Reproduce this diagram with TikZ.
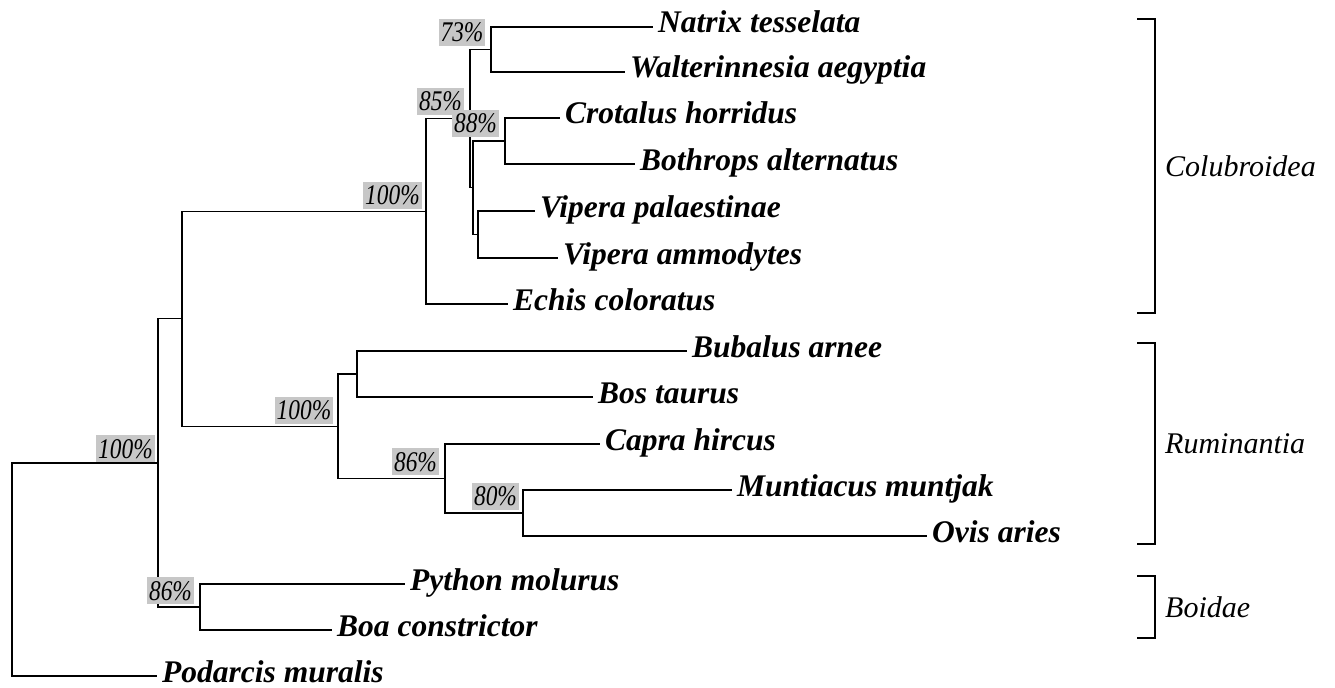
\documentclass[tikz,border=0pt]{standalone}
\usepackage{fontspec}
\usepackage{graphicx}
\setmainfont{Liberation Serif}
\begin{document}
\begin{tikzpicture}[x=1bp,y=-1bp,
  branch/.style={line width=1.3bp, black},
  leaf/.style={anchor=west, inner xsep=5bp, inner ysep=0pt, text height=12bp, text depth=0bp,
    font=\fontsize{31.5bp}{36bp}\selectfont\bfseries\itshape},
  support/.style={fill=black!22, inner xsep=2bp, inner ysep=3.5bp, text height=19.5bp, text depth=0.5bp,
    font=\fontsize{28.5bp}{32bp}\selectfont\itshape},
  clade/.style={anchor=west, inner sep=0pt, font=\fontsize{30bp}{34bp}\selectfont\itshape},
  bracketline/.style={line width=1.3bp, black}
]
\useasboundingbox (0,0) rectangle (1335,687);

% leaves
\node[leaf] (natrix)    at (653,27)  {Natrix tesselata};
\node[leaf] (walter)    at (625,72)  {Walterinnesia aegyptia};
\node[leaf] (crotalus)  at (560,118) {Crotalus horridus};
\node[leaf] (bothrops)  at (635,164) {Bothrops alternatus};
\node[leaf] (vpal)      at (535,211) {Vipera palaestinae};
\node[leaf] (vamm)      at (558,258) {Vipera ammodytes};
\node[leaf] (echis)     at (508,304) {Echis coloratus};
\node[leaf] (bubalus)   at (687,351) {Bubalus arnee};
\node[leaf] (bos)       at (593,397) {Bos taurus};
\node[leaf] (capra)     at (600,444) {Capra hircus};
\node[leaf] (muntiacus) at (732,490) {Muntiacus muntjak};
\node[leaf] (ovis)      at (927,536) {Ovis aries};
\node[leaf] (python)    at (405,584) {Python molurus};
\node[leaf] (boa)       at (332,630) {Boa constrictor};
\node[leaf] (podarcis)  at (157,676) {Podarcis muralis};

% internal nodes
\coordinate (nA)   at (491,49.5);
\coordinate (nC1)  at (505,141);
\coordinate (nC2)  at (478,234.5);
\coordinate (nC)   at (473,187.75);
\coordinate (nB)   at (470,118.6);
\coordinate (nD)   at (426,211.3);
\coordinate (nE)   at (357,374);
\coordinate (nH)   at (523,513);
\coordinate (nG)   at (445,478.5);
\coordinate (nF)   at (338,426.25);
\coordinate (nI)   at (182,318.8);
\coordinate (nK)   at (200,607);
\coordinate (nJ)   at (158,462.9);
\coordinate (root) at (12,569.5);

% branches
\draw[branch] (nA) |- (natrix.west);
\draw[branch] (nA) |- (walter.west);
\draw[branch] (nC1) |- (crotalus.west);
\draw[branch] (nC1) |- (bothrops.west);
\draw[branch] (nC2) |- (vpal.west);
\draw[branch] (nC2) |- (vamm.west);
\draw[branch] (nC) |- (nC1);
\draw[branch] (nC) |- (nC2);
\draw[branch] (nB) |- (nA);
\draw[branch] (nB) |- (nC);
\draw[branch] (nD) |- (nB);
\draw[branch] (nD) |- (echis.west);
\draw[branch] (nE) |- (bubalus.west);
\draw[branch] (nE) |- (bos.west);
\draw[branch] (nH) |- (muntiacus.west);
\draw[branch] (nH) |- (ovis.west);
\draw[branch] (nG) |- (capra.west);
\draw[branch] (nG) |- (nH);
\draw[branch] (nF) |- (nE);
\draw[branch] (nF) |- (nG);
\draw[branch] (nI) |- (nD);
\draw[branch] (nI) |- (nF);
\draw[branch] (nK) |- (python.west);
\draw[branch] (nK) |- (boa.west);
\draw[branch] (nJ) |- (nI);
\draw[branch] (nJ) |- (nK);
\draw[branch] (root) |- (nJ);
\draw[branch] (root) |- (podarcis.west);

% support values
\node[support] (s73)  at (462,32.5)   {\scalebox{0.82}[1]{73\%}};
\node[support] (s85)  at (440.5,101.5){\scalebox{0.82}[1]{85\%}};
\node[support] (s88)  at (475.5,123.5){\scalebox{0.82}[1]{88\%}};
\node[support] (s100a) at (392.5,195) {\scalebox{0.82}[1]{100\%}};
\node[support] (s100b) at (304,410)   {\scalebox{0.82}[1]{100\%}};
\node[support] (s86a) at (415.5,461.5){\scalebox{0.82}[1]{86\%}};
\node[support] (s80)  at (495.5,496)  {\scalebox{0.82}[1]{80\%}};
\node[support] (s100c) at (125.5,448.5){\scalebox{0.82}[1]{100\%}};
\node[support] (s86b) at (170.5,590.5){\scalebox{0.82}[1]{86\%}};

% clade brackets
\coordinate (colA) at (1137,19);
\coordinate (colB) at (1155,313);
\coordinate (colC) at (1137,313);
\draw[bracketline] (colA) -| (colB) -- (colC);
\node[clade] (colub) at (1165,166) {Colubroidea};

\coordinate (rumA) at (1137,343);
\coordinate (rumB) at (1155,544);
\coordinate (rumC) at (1137,544);
\draw[bracketline] (rumA) -| (rumB) -- (rumC);
\node[clade] (rumin) at (1165,443.5) {Ruminantia};

\coordinate (boiA) at (1137,576);
\coordinate (boiB) at (1155,638);
\coordinate (boiC) at (1137,638);
\draw[bracketline] (boiA) -| (boiB) -- (boiC);
\node[clade] (boid) at (1165,607) {Boidae};
\end{tikzpicture}
\end{document}
